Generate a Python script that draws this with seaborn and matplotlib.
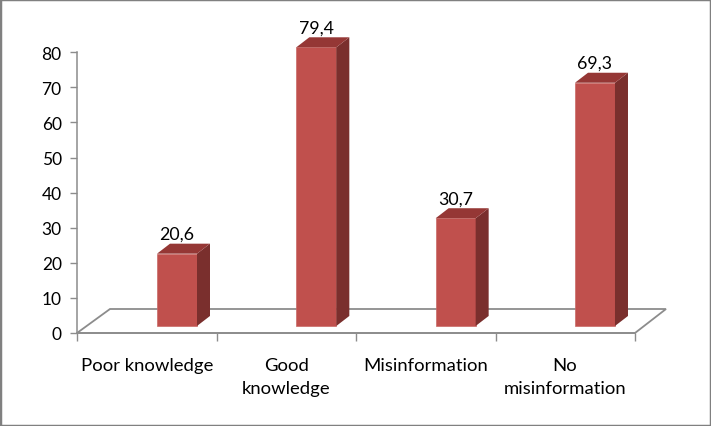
import matplotlib
matplotlib.use('Agg')
import matplotlib.pyplot as plt
from matplotlib.patches import Polygon, Rectangle
from matplotlib.transforms import ScaledTranslation
import pandas as pd
import seaborn as sns

categories = ['Poor knowledge', 'Good\nknowledge', 'Misinformation', 'No\nmisinformation']
values = [20.6, 79.4, 30.7, 69.3]
value_labels = ['20,6', '79,4', '30,7', '69,3']
y_ticks = [0, 10, 20, 30, 40, 50, 60, 70, 80]

W, H = 711, 427
FRONT = '#C0504D'
SIDE = '#7A2F2D'
TOP = '#953735'
AXIS = '#8C8C8C'

sns.set_style('white')
plt.rcParams['font.family'] = ['Lato', 'DejaVu Sans']

df = pd.DataFrame({'category': categories, 'value': values})

fig = plt.figure(figsize=(W / 100, H / 100), dpi=100)
# axes run from x=77 to x=635, y=333 is zero on the axis
ax = fig.add_axes([77 / W, 1 - 334 / H, 558 / W, 313 / H])

# bars stand a bit forward of the axis floor, hence the bottom offset
lift = 2
sns.barplot(data=df, x='category', y='value', ax=ax, color=FRONT, saturation=1,
            width=40 / 139.33, bottom=lift, zorder=3, edgecolor='#C96A67', linewidth=0.5)

px_x = 139.33  # px per category
px_y = 3.51  # px per value unit
ax.set_xlim(-100 / px_x, 458 / px_x)
ax.set_ylim(0, 313 / px_y)

# 3d faces, built from the bars seaborn drew
dx = 13 / px_x
dy = 10 / px_y
for bar in ax.patches:
    x0 = bar.get_x()
    x1 = x0 + bar.get_width()
    y0 = bar.get_y()
    y1 = y0 + bar.get_height()
    ax.add_patch(Polygon([(x1, y0), (x1 + dx, y0 + dy), (x1 + dx, y1 + dy), (x1, y1)],
                         facecolor=SIDE, edgecolor='none', zorder=3))
    ax.add_patch(Polygon([(x0, y1), (x1, y1), (x1 + dx, y1 + dy), (x0 + dx, y1 + dy)],
                         facecolor=TOP, edgecolor='none', zorder=3))

# floor of the 3d plot
floor = Polygon([(0, 0), (33 / 558, 24 / 313), (589 / 558, 24 / 313), (1, 0)],
                closed=True, transform=ax.transAxes, facecolor='white', edgecolor=AXIS,
                linewidth=1.3, clip_on=False, zorder=1)
ax.add_patch(floor)

ax.bar_label(ax.containers[0], labels=value_labels, padding=8.5, fontsize=12.8, color='black', zorder=5)

sns.despine(ax=ax, top=True, right=True)
ax.spines['left'].set_bounds(0, 80)
ax.spines['left'].set_color(AXIS)
ax.spines['left'].set_linewidth(1.1)
ax.spines['bottom'].set_color(AXIS)
ax.spines['bottom'].set_linewidth(1.1)
ax.spines['left'].set_zorder(2)
ax.spines['bottom'].set_zorder(2)

ax.set_xlabel('')
ax.set_ylabel('')
ax.set_yticks(y_ticks)
ax.tick_params(axis='y', length=5, width=1, color=AXIS, left=True, labelsize=12.5, pad=6, labelcolor='black')

# category labels sit centred between the boundary ticks
ax.set_xticks(range(len(categories)))
ax.set_xticklabels(categories, linespacing=1.55)
ax.tick_params(axis='x', which='major', length=0, labelsize=13.3, pad=17, labelcolor='black')
shift = ScaledTranslation(-30 / 100, 0, fig.dpi_scale_trans)
for label in ax.get_xticklabels():
    label.set_transform(label.get_transform() + shift)
    label.set_verticalalignment('top')
ax.set_xticks([-100 / px_x + i * 558 / 4 / px_x for i in range(5)], minor=True)
ax.tick_params(axis='x', which='minor', bottom=True, length=5.7, width=1, color=AXIS)

fig.add_artist(Rectangle((0, 0), 1, 1, transform=fig.transFigure, fill=False,
                         edgecolor='#808080', linewidth=2.5))

fig.savefig('out.png', dpi=100)
